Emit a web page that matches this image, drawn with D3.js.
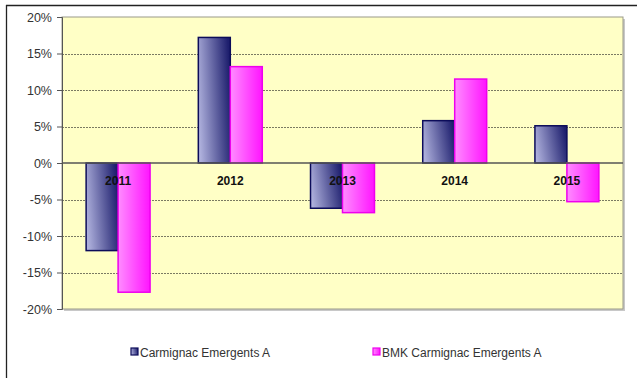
<!DOCTYPE html>
<html>
<head>
<meta charset="utf-8">
<script src="https://cdn.jsdelivr.net/npm/d3@7"></script>
<style>
  html, body { margin: 0; padding: 0; background: #ffffff; }
  svg { display: block; font-family: Arial, "Liberation Sans", sans-serif; }
</style>
</head>
<body>
<svg id="chart" width="637" height="378"></svg>
<script>
// Annual performance, fund vs. benchmark (percent)
const years = ["2011", "2012", "2013", "2014", "2015"];
const seriesNames = ["Carmignac Emergents A", "BMK Carmignac Emergents A"];
const fundValues = [-12.0, 17.2, -6.2, 5.8, 5.1];
const benchmarkValues = [-17.7, 13.2, -6.8, 11.5, -5.3];
const yTicks = [-20, -15, -10, -5, 0, 5, 10, 15, 20];

const svg = d3.select("#chart");
const W = 637, H = 378;
const plot = { left: 62, top: 17, right: 623, bottom: 309 };

// Outer frame: top and left rules
svg.append("line").attr("x1", 6).attr("x2", W).attr("y1", 5.5).attr("y2", 5.5)
  .attr("stroke", "#222").attr("stroke-width", 1.3);
svg.append("line").attr("x1", 6.5).attr("x2", 6.5).attr("y1", 5).attr("y2", H)
  .attr("stroke", "#222").attr("stroke-width", 1.3);

const defs = svg.append("defs");
const g1 = defs.append("linearGradient").attr("id", "gradFund")
  .attr("x1", "0%").attr("y1", "60%").attr("x2", "100%").attr("y2", "40%");
g1.append("stop").attr("offset", "0%").attr("stop-color", "#aeb0dc");
g1.append("stop").attr("offset", "100%").attr("stop-color", "#1e1f6e");
const g2 = defs.append("linearGradient").attr("id", "gradBmk")
  .attr("x1", "0%").attr("y1", "0%").attr("x2", "100%").attr("y2", "0%");
g2.append("stop").attr("offset", "0%").attr("stop-color", "#ff8cff");
g2.append("stop").attr("offset", "100%").attr("stop-color", "#ff14ff");

const x = d3.scaleBand().domain(years).range([plot.left, plot.right]).paddingInner(0.43).paddingOuter(0.215);
const xs = d3.scaleBand().domain([0, 1]).range([0, x.bandwidth()]);
const y = d3.scaleLinear().domain([-20, 20]).range([plot.bottom, plot.top]);

// Plot background with soft shadow
svg.append("rect").attr("x", plot.left + 2).attr("y", plot.top + 2)
  .attr("width", plot.right - plot.left).attr("height", plot.bottom - plot.top)
  .attr("fill", "#c8c8c8");
svg.append("rect").attr("x", plot.left).attr("y", plot.top)
  .attr("width", plot.right - plot.left).attr("height", plot.bottom - plot.top)
  .attr("fill", "#ffffc6").attr("stroke", "#9a9a8a").attr("stroke-width", 1);

// Gridlines
svg.append("g").selectAll("line").data(yTicks.filter(t => t !== 0 && t !== 20 && t !== -20)).join("line")
  .attr("x1", plot.left).attr("x2", plot.right)
  .attr("y1", d => Math.round(y(d)) + 0.5).attr("y2", d => Math.round(y(d)) + 0.5)
  .attr("stroke", "#7a7a62").attr("stroke-width", 1).attr("stroke-dasharray", "2,1");

// Y axis
const yAxis = d3.axisLeft(y).tickValues(yTicks).tickSize(5).tickPadding(5).tickFormat(d => d + "%");
const ya = svg.append("g").attr("transform", `translate(${plot.left},0)`).call(yAxis);
ya.select(".domain").attr("stroke", "#555");
ya.selectAll(".tick line").attr("stroke", "#555");
ya.selectAll(".tick text").attr("fill", "#333").attr("font-size", "12.5px");

// Bars
const rows = years.map((yr, i) => [
  { year: yr, k: 0, v: fundValues[i] },
  { year: yr, k: 1, v: benchmarkValues[i] }
]).flat();
svg.append("g").selectAll("rect").data(rows).join("rect")
  .attr("x", d => x(d.year) + xs(d.k))
  .attr("width", xs.bandwidth())
  .attr("y", d => y(Math.max(0, d.v)))
  .attr("height", d => Math.abs(y(d.v) - y(0)))
  .attr("fill", d => d.k === 0 ? "url(#gradFund)" : "url(#gradBmk)")
  .attr("stroke", d => d.k === 0 ? "#0c0c5a" : "#ee00ee")
  .attr("stroke-width", 1.5);

// Zero line
svg.append("line").attr("x1", plot.left).attr("x2", plot.right)
  .attr("y1", y(0)).attr("y2", y(0)).attr("stroke", "#555").attr("stroke-width", 1.3);

// Category labels just below zero line
svg.append("g").selectAll("text").data(years).join("text")
  .attr("x", d => x(d) + x.bandwidth() / 2)
  .attr("y", y(0) + 22)
  .attr("text-anchor", "middle").attr("font-weight", "bold").attr("font-size", "12px")
  .attr("fill", "#111").text(d => d);

// Legend
const legendX = [131, 373];
const lg = svg.append("g").selectAll("g").data(seriesNames).join("g")
  .attr("transform", (d, i) => `translate(${legendX[i]},352)`);
lg.append("rect").attr("x", 0).attr("y", -4).attr("width", 7).attr("height", 7)
  .attr("fill", (d, i) => i === 0 ? "url(#gradFund)" : "url(#gradBmk)")
  .attr("stroke", (d, i) => i === 0 ? "#0c0c5a" : "#ee00ee").attr("stroke-width", 1.2);
lg.append("text").attr("x", 9).attr("y", 4.5).attr("font-size", "12px")
  .attr("fill", "#333").text(d => d);
</script>
</body>
</html>
